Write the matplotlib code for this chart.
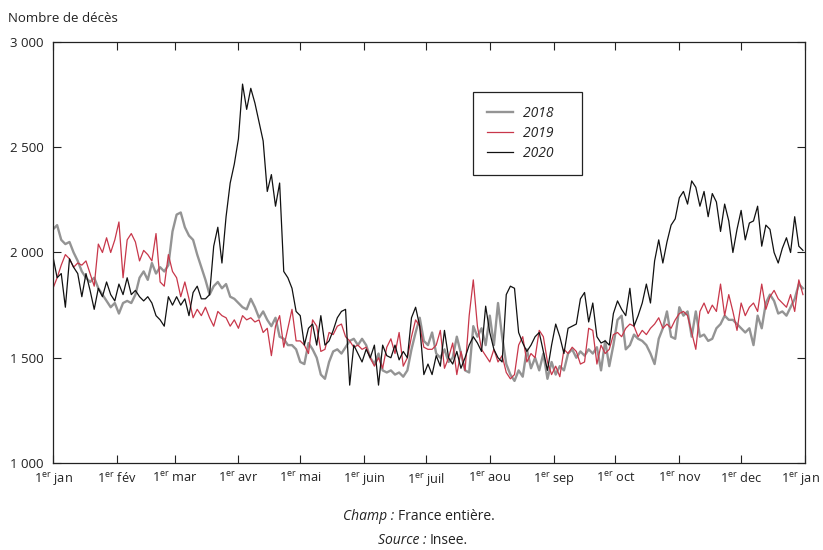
import numpy as np
from matplotlib import pyplot as plt
from matplotlib.transforms import ScaledTranslation

plt.rcParams['font.family'] = ['Open Sans', 'DejaVu Sans']
plt.rcParams['mathtext.fontset'] = 'custom'
plt.rcParams['mathtext.rm'] = 'Open Sans'
plt.rcParams['mathtext.it'] = 'Open Sans:italic'

# daily deaths, one reading every two days (day 0 = 1 January)
deaths_2018 = [
    2110, 2130, 2060, 2040, 2050, 2000, 1960, 1910, 1880, 1860,
    1880, 1830, 1800, 1770, 1740, 1760, 1710, 1760, 1770, 1760,
    1800, 1880, 1910, 1870, 1950, 1900, 1930, 1910, 1940, 2100,
    2180, 2190, 2120, 2080, 2060, 1990, 1930, 1870, 1800, 1840,
    1860, 1830, 1850, 1790, 1780, 1760, 1740, 1730, 1780, 1740,
    1690, 1720, 1680, 1650, 1690, 1600, 1590, 1560, 1560, 1540,
    1480, 1470, 1570, 1540, 1500, 1420, 1400, 1480, 1530, 1540,
    1520, 1550, 1580, 1590, 1560, 1590, 1560, 1500, 1470, 1520,
    1440, 1430, 1440, 1420, 1430, 1410, 1440, 1540, 1620, 1690,
    1580, 1560, 1620, 1520, 1500, 1540, 1480, 1500, 1600, 1520,
    1440, 1430, 1650, 1600, 1640, 1560, 1700, 1560, 1760, 1600,
    1470, 1420, 1390, 1440, 1410, 1540, 1450, 1500, 1440, 1520,
    1400, 1480, 1420, 1460, 1440, 1520, 1540, 1500, 1530, 1510,
    1540, 1520, 1550, 1440, 1580, 1460, 1560, 1680, 1700, 1540,
    1560, 1610, 1590, 1580, 1560, 1520, 1470, 1590, 1640, 1720,
    1600, 1590, 1740, 1700, 1720, 1600, 1720, 1600, 1610, 1580,
    1590, 1640, 1660, 1700, 1680, 1680, 1660, 1640, 1620, 1640,
    1560, 1700, 1640, 1760, 1800, 1770, 1710, 1720, 1700, 1740,
    1780, 1850, 1830,
]
deaths_2019 = [
    1830, 1880, 1940, 1990, 1970, 1930, 1950, 1940, 1960, 1900,
    1840, 2040, 2000, 2070, 2000, 2060, 2145, 1880, 2060, 2090,
    2050, 1960, 2010, 1990, 1960, 2090, 1860, 1840, 1990, 1910,
    1880, 1790, 1860, 1780, 1690, 1730, 1700, 1740, 1690, 1650,
    1720, 1700, 1690, 1650, 1680, 1640, 1700, 1680, 1690, 1670,
    1680, 1620, 1640, 1510, 1650, 1700, 1550, 1640, 1730, 1580,
    1580, 1560, 1520, 1680, 1650, 1530, 1540, 1620, 1610, 1650,
    1660, 1600, 1580, 1550, 1560, 1540, 1550, 1500, 1460, 1500,
    1450, 1550, 1590, 1520, 1620, 1460, 1500, 1600, 1680, 1650,
    1550, 1540, 1540, 1560, 1630, 1450, 1500, 1570, 1420, 1530,
    1440, 1700, 1870, 1650, 1540, 1510, 1480, 1540, 1480, 1510,
    1430, 1400, 1420, 1560, 1600, 1480, 1520, 1500, 1630, 1600,
    1480, 1420, 1460, 1410, 1540, 1520, 1550, 1530, 1470, 1480,
    1640, 1630, 1470, 1560, 1520, 1540, 1610, 1620, 1600, 1640,
    1660, 1650, 1600, 1630, 1610, 1640, 1660, 1690, 1640, 1660,
    1640, 1680, 1710, 1720, 1700, 1620, 1540, 1720, 1760, 1710,
    1750, 1720, 1850, 1700, 1800, 1720, 1630, 1760, 1700, 1740,
    1760, 1720, 1850, 1730, 1790, 1820, 1780, 1760, 1740, 1800,
    1720, 1870, 1800,
]
deaths_2020 = [
    1980, 1880, 1900, 1740, 1970, 1930, 1900, 1790, 1900, 1820,
    1730, 1830, 1790, 1860, 1800, 1770, 1850, 1800, 1880, 1800,
    1820, 1790, 1770, 1790, 1760, 1700, 1680, 1650, 1790, 1750,
    1790, 1750, 1780, 1700, 1810, 1840, 1780, 1780, 1800, 2030,
    2120, 1950, 2170, 2330, 2420, 2540, 2800, 2680, 2780, 2710,
    2620, 2530, 2290, 2370, 2220, 2330, 1910, 1880, 1830, 1720,
    1700, 1560, 1640, 1660, 1560, 1700, 1560, 1580, 1630, 1690,
    1720, 1730, 1370, 1560, 1520, 1480, 1540, 1500, 1560, 1370,
    1560, 1510, 1500, 1560, 1490, 1530, 1500, 1690, 1740, 1650,
    1420, 1470, 1420, 1510, 1460, 1630, 1500, 1470, 1530, 1450,
    1500, 1560, 1600, 1570, 1530, 1745, 1620, 1540, 1500, 1480,
    1800, 1840, 1830, 1620, 1570, 1530, 1560, 1600, 1620, 1530,
    1440, 1560, 1660, 1600, 1520, 1640, 1650, 1660, 1780, 1810,
    1670, 1760, 1600, 1570, 1580, 1560, 1710, 1770, 1730, 1700,
    1830, 1650, 1700, 1760, 1850, 1760, 1960, 2060, 1950, 2050,
    2130, 2160, 2260, 2290, 2230, 2340, 2310, 2220, 2290, 2170,
    2280, 2240, 2100, 2230, 2150, 2000, 2110, 2200, 2060, 2140,
    2150, 2220, 2030, 2130, 2110, 2000, 1950, 2020, 2070, 2000,
    2170, 2030, 2010,
]

month_starts = [0, 31, 59, 90, 120, 151, 181, 212, 243, 273, 304, 334, 365]
month_names = ['jan', 'fév', 'mar', 'avr', 'mai', 'juin', 'juil', 'aou',
               'sep', 'oct', 'nov', 'dec', 'jan']
y_ticks = [1000, 1500, 2000, 2500, 3000]

fig = plt.figure(figsize=(8.23, 5.5), dpi=100)
ax = fig.add_axes([53 / 823, 1 - 463 / 550, 752 / 823, 421 / 550])

series = [(deaths_2018, '2018', '#949494', 1.7),
          (deaths_2019, '2019', '#c8374a', 0.9),
          (deaths_2020, '2020', '#111111', 0.9)]
for values, label, color, lw in series:
    days = np.arange(len(values)) * 2
    ax.plot(days, values, color=color, linewidth=lw, label=label)

ax.set_xlim(0, 365)
ax.set_ylim(1000, 3000)
ax.set_xticks(month_starts)
ax.set_xticklabels([r'1$^{\mathrm{er}}$ ' + m for m in month_names])
ax.set_yticks(y_ticks)
ax.set_yticklabels(['{:,}'.format(v).replace(',', ' ') for v in y_ticks])
ax.tick_params(direction='in', length=6, width=0.8, top=True, right=True,
               labelsize=9.5, color='#222222', labelcolor='#222222')
ax.tick_params(axis='y', pad=7)
ax.tick_params(axis='x', pad=6, labelsize=9.2)
for s in ax.spines.values():
    s.set_linewidth(0.9)
    s.set_color('#222222')

# last "1er jan" sits a little left of its tick so it stays inside the figure
last = ax.get_xticklabels()[-1]
last.set_transform(last.get_transform() + ScaledTranslation(-5 / 100, 0, fig.dpi_scale_trans))

leg = ax.legend(loc='upper left', bbox_to_anchor=(0.5585, 0.881), borderaxespad=0,
                frameon=True, fancybox=False, edgecolor='#222222', framealpha=1,
                prop={'style': 'italic', 'size': 10}, handlelength=1.9,
                handletextpad=0.7, labelspacing=0.35, borderpad=1.0)
leg.get_frame().set_linewidth(0.9)
for t in leg.get_texts():
    t.set_color('#222222')
    t.set_text(t.get_text() + '    ')

fig.text(8 / 823, 1 - 18 / 550, 'Nombre de décès', fontsize=9.5, va='center', color='#222222')

fig.text(394 / 823, 1 - 517 / 550, 'Champ :', style='italic', fontsize=10, ha='right', va='center', color='#222222')
fig.text(398 / 823, 1 - 517 / 550, 'France entière.', fontsize=10, ha='left', va='center', color='#222222')
fig.text(426 / 823, 1 - 541 / 550, 'Source :', style='italic', fontsize=10, ha='right', va='center', color='#222222')
fig.text(430 / 823, 1 - 541 / 550, 'Insee.', fontsize=10, ha='left', va='center', color='#222222')

fig.savefig('out.png', dpi=100)
